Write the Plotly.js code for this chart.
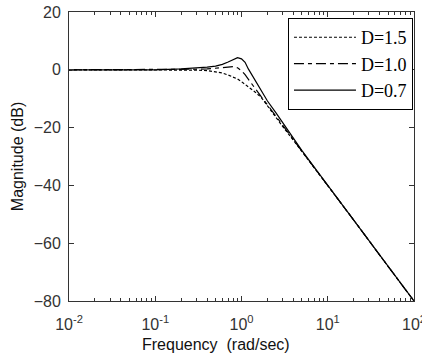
<!DOCTYPE html>
<html>
<head>
<meta charset="utf-8">
<script src="https://cdn.plot.ly/plotly-3.0.1.min.js"></script>
<style>html,body{margin:0;padding:0;background:#fff;}#chart{width:422px;height:360px;}</style>
</head>
<body>
<div id="chart"></div>
<script>
const freq = [0.01, 0.1, 0.2, 0.3, 0.4, 0.5, 0.6, 0.7, 0.8, 0.9, 1.0, 1.1, 1.2, 1.4, 1.7, 2, 2.5, 3, 4, 5, 7, 10, 20, 50, 100];
// Magnitude (dB) for each damping value
const magD15 = [0, 0, 0, -0.1, -0.3, -0.6, -1.1, -1.8, -2.4, -3.2, -4.1, -5.0, -5.8, -7.4, -9.6, -12.5, -16.4, -19.6, -24.4, -28.2, -34.0, -40.1, -52, -68, -80];
const magD10 = [0, 0, 0.1, 0.2, 0.3, 0.5, 0.8, 1.0, 1.1, 0.7, -0.3, -1.7, -3.3, -6.0, -9.4, -12.1, -16.1, -19.3, -24.2, -28.1, -33.9, -40.0, -52, -68, -80];
const magD07 = [0, 0, 0.3, 0.6, 0.9, 1.3, 1.9, 2.7, 3.6, 4.2, 3.8, 2.6, 0.3, -3.0, -7.5, -10.8, -14.8, -18.3, -23.7, -27.9, -33.8, -40.0, -52, -68, -80];
const seriesNames = ['D=1.5', 'D=1.0', 'D=0.7'];
const xTickVals = [0.01, 0.1, 1, 10, 100];
const xTickText = ['10<sup>-2</sup>', '10<sup>-1</sup>', '10<sup>0</sup>', '10<sup>1</sup>', '10<sup>2</sup>'];
const yTickVals = [-80, -60, -40, -20, 0, 20];

const traces = [
  {x: freq, y: magD15, name: seriesNames[0], mode: 'lines', line: {color: '#000', width: 1.2, dash: '3px,2px'}},
  {x: freq, y: magD10, name: seriesNames[1], mode: 'lines', line: {color: '#000', width: 1.2, dash: '10px,4px,4px,4px'}},
  {x: freq, y: magD07, name: seriesNames[2], mode: 'lines', line: {color: '#000', width: 1.2}}
];

const axisFont = {family: 'Liberation Sans, Arial, sans-serif', size: 16, color: '#333'};

const layout = {
  width: 422, height: 360,
  margin: {l: 69, r: 8, t: 12, b: 59},
  paper_bgcolor: '#fff', plot_bgcolor: '#fff',
  showlegend: true,
  legend: {
    x: 0.997, xanchor: 'right', y: 0.979, yanchor: 'top',
    bordercolor: '#000', borderwidth: 1, bgcolor: '#fff',
    font: {family: 'Liberation Serif, Times New Roman, serif', size: 18, color: '#000'},
    itemwidth: 62
  },
  xaxis: {
    type: 'log', range: [-2, 2],
    tickmode: 'array', tickvals: xTickVals, ticktext: xTickText,
    ticks: 'inside', ticklen: 5, tickcolor: '#333',
    minor: {dtick: 'D1', ticks: 'inside', ticklen: 3, tickcolor: '#333', showgrid: false},
    showline: true, linecolor: '#333', linewidth: 1, mirror: 'ticks',
    showgrid: false, zeroline: false,
    ticklabelstandoff: 9,
    ticklabeloverflow: 'allow',
    tickfont: axisFont
  },
  yaxis: {
    range: [-80, 20],
    tickmode: 'array', tickvals: yTickVals,
    ticks: 'inside', ticklen: 5, tickcolor: '#333',
    showline: true, linecolor: '#333', linewidth: 1, mirror: 'ticks',
    showgrid: false, zeroline: false,
    ticklabelstandoff: 4,
    tickfont: axisFont,
    title: {text: 'Magnitude (dB)', font: {family: 'Liberation Sans, Arial, sans-serif', size: 16, color: '#111'}, standoff: 6}
  },
  annotations: [
    {text: 'Frequency  (rad/sec)', xref: 'paper', yref: 'paper', x: 0.425, y: -0.114, xanchor: 'center', yanchor: 'top', showarrow: false,
     font: {family: 'Liberation Sans, Arial, sans-serif', size: 16, color: '#111'}}
  ]
};

Plotly.newPlot('chart', traces, layout, {staticPlot: true, displayModeBar: false});
</script>
</body>
</html>
